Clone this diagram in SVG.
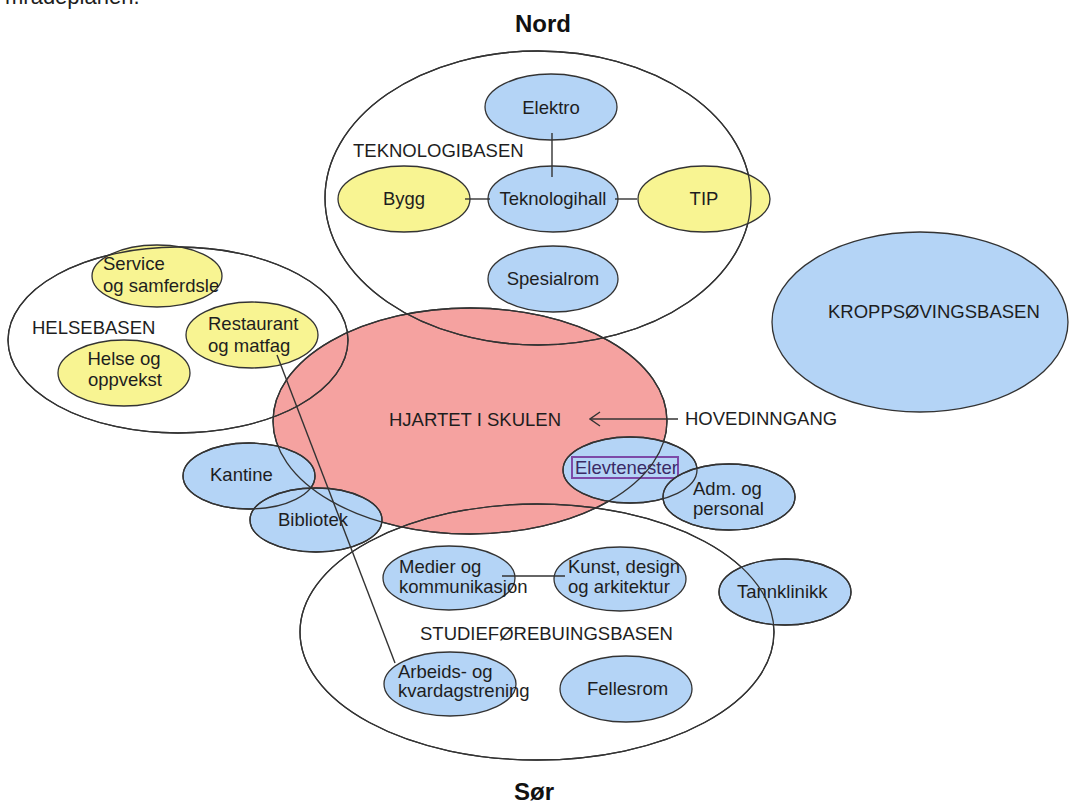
<svg xmlns="http://www.w3.org/2000/svg" width="1070" height="805" viewBox="0 0 1070 805">
<defs>
<style>
text{font-family:"Liberation Sans",Arial,sans-serif;font-size:18.5px;fill:#1e1e1e}
.t{font-weight:bold;font-size:24px;fill:#111}
.blue{fill:#b4d4f6;stroke:#333;stroke-width:1.3}
.yellow{fill:#f8f492;stroke:#333;stroke-width:1.3}
.red{fill:#f5a2a0;stroke:#333;stroke-width:1.3}
.zone{fill:none;stroke:#333;stroke-width:1.3}
.ol{fill:none;stroke:#333;stroke-width:1.3}
.c{fill:none;stroke:#333;stroke-width:1.4}
</style>
<marker id="arr" viewBox="0 0 12 16" refX="11" refY="8" markerWidth="12" markerHeight="16" markerUnits="userSpaceOnUse" orient="auto">
<path d="M1,1 L11,8 L1,15" fill="none" stroke="#333" stroke-width="1.4"/>
</marker>
</defs>
<rect width="1070" height="805" fill="#fff"/>
<text x="5" y="4" style="font-size:22px">mradeplanen.</text>
<text class="t" x="543" y="32" text-anchor="middle">Nord</text>
<text class="t" x="534" y="800" text-anchor="middle">Sør</text>

<g id="hjartet">
<ellipse class="red" cx="470" cy="421" rx="197" ry="113"/>
<text x="475" y="426" text-anchor="middle">HJARTET I SKULEN</text>
</g>
<g id="teknologibasen">
<ellipse class="zone" cx="538" cy="198" rx="213" ry="147"/>
<text x="353" y="157">TEKNOLOGIBASEN</text>
</g>
<g id="helsebasen">
<ellipse class="zone" cx="178" cy="340" rx="170" ry="93"/>
<text x="32" y="334">HELSEBASEN</text>
</g>
<g id="studieforebuingsbasen">
<ellipse class="zone" cx="537" cy="632" rx="237" ry="128"/>
<text x="420" y="640">STUDIEFØREBUINGSBASEN</text>
</g>
<g id="kroppsovingsbasen">
<ellipse class="blue" cx="920" cy="322" rx="148" ry="90"/>
<text x="828" y="318">KROPPSØVINGSBASEN</text>
</g>

<g id="elektro"><ellipse class="blue" cx="551" cy="107" rx="66" ry="33"/><text x="551" y="114" text-anchor="middle">Elektro</text></g>
<g id="teknologihall"><ellipse class="blue" cx="553" cy="199" rx="65" ry="33"/><text x="553" y="205" text-anchor="middle">Teknologihall</text></g>
<g id="bygg"><ellipse class="yellow" cx="404" cy="199" rx="66" ry="33"/><text x="404" y="205" text-anchor="middle">Bygg</text></g>
<g id="tip"><ellipse class="yellow" cx="704" cy="199" rx="66" ry="33"/><text x="704" y="205" text-anchor="middle">TIP</text></g>
<g id="spesialrom"><ellipse class="blue" cx="553" cy="279" rx="65" ry="33"/><text x="553" y="285" text-anchor="middle">Spesialrom</text></g>

<g id="service"><ellipse class="yellow" cx="157" cy="276" rx="65" ry="31"/><text x="103" y="270">Service</text><text x="103" y="292">og samferdsle</text></g>
<g id="restaurant"><ellipse class="yellow" cx="252" cy="335" rx="66" ry="33"/><text x="208" y="330">Restaurant</text><text x="208" y="352">og matfag</text></g>
<g id="helse"><ellipse class="yellow" cx="124" cy="373" rx="66" ry="33"/><text x="124" y="365" text-anchor="middle">Helse og</text><text x="125" y="386" text-anchor="middle">oppvekst</text></g>

<g id="kantine"><ellipse class="blue" cx="249" cy="476" rx="66" ry="33"/><text x="210" y="481">Kantine</text></g>
<g id="bibliotek"><ellipse class="blue" cx="316" cy="520" rx="66" ry="32"/><text x="278" y="526">Bibliotek</text></g>
<g id="elevtenester"><ellipse class="blue" cx="630" cy="470" rx="67" ry="33"/><rect x="572" y="457" width="106" height="21" fill="none" stroke="#7d4aa8" stroke-width="2"/><text x="575" y="474" style="fill:#3a2a66">Elevtenester</text></g>
<g id="adm"><ellipse class="blue" cx="729" cy="497" rx="66" ry="33"/><text x="693" y="495">Adm. og</text><text x="693" y="515">personal</text></g>

<g id="medier"><ellipse class="blue" cx="449" cy="578" rx="66" ry="32"/><text x="399" y="573">Medier og</text><text x="399" y="593">kommunikasjon</text></g>
<g id="kunst"><ellipse class="blue" cx="620" cy="579" rx="66" ry="32"/><text x="568" y="573">Kunst, design</text><text x="568" y="593">og arkitektur</text></g>
<g id="tannklinikk"><ellipse class="blue" cx="785" cy="592" rx="66" ry="33"/><text x="737" y="598">Tannklinikk</text></g>
<g id="arbeids"><ellipse class="blue" cx="450" cy="684" rx="66" ry="32"/><text x="398" y="678">Arbeids- og</text><text x="398" y="697">kvardagstrening</text></g>
<g id="fellesrom"><ellipse class="blue" cx="626" cy="689" rx="66" ry="33"/><text x="587" y="695">Fellesrom</text></g>

<g id="hovedinngang"><text x="685" y="425">HOVEDINNGANG</text></g>

<g id="outlines">
<ellipse class="ol" cx="470" cy="421" rx="197" ry="113"/>
<ellipse class="ol" cx="538" cy="198" rx="213" ry="147"/>
<ellipse class="ol" cx="178" cy="340" rx="170" ry="93"/>
<ellipse class="ol" cx="537" cy="632" rx="237" ry="128"/>
<ellipse class="ol" cx="249" cy="476" rx="66" ry="33"/>
<ellipse class="ol" cx="316" cy="520" rx="66" ry="32"/>
<ellipse class="ol" cx="630" cy="470" rx="67" ry="33"/>
<ellipse class="ol" cx="729" cy="497" rx="66" ry="33"/>
<ellipse class="ol" cx="785" cy="592" rx="66" ry="33"/>
</g>

<g id="connectors">
<line class="c" x1="552" y1="133" x2="552" y2="177"/>
<line class="c" x1="465" y1="199" x2="490" y2="199"/>
<line class="c" x1="615" y1="199" x2="637" y2="199"/>
<line class="c" x1="502" y1="576" x2="565" y2="576"/>
<line class="c" x1="277" y1="355" x2="395" y2="663"/>
<line class="c" x1="678" y1="419" x2="590" y2="419" marker-end="url(#arr)"/>
</g>
</svg>
